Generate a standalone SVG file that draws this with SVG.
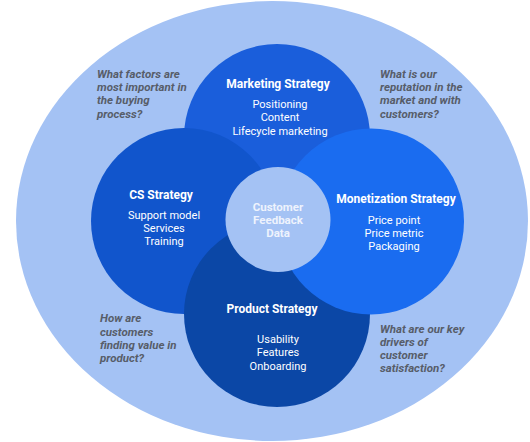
<svg xmlns="http://www.w3.org/2000/svg" width="530" height="442" viewBox="0 0 530 442">
<style>
.t{font-family:Roboto,"Liberation Sans",sans-serif;font-weight:bold;font-size:12px;fill:#ffffff;text-anchor:middle}
.i{font-family:Roboto,"Liberation Sans",sans-serif;font-size:11px;fill:#ffffff;text-anchor:middle}
.c{font-family:Roboto,"Liberation Sans",sans-serif;font-weight:bold;font-size:11.5px;fill:#eef3fd;text-anchor:middle}
.q{font-family:Roboto,"Liberation Sans",sans-serif;font-weight:bold;font-style:italic;font-size:11.5px;fill:#575d69}
</style>
<rect width="530" height="442" fill="#ffffff"/>
<g id="outer">
<ellipse cx="272" cy="221" rx="256" ry="220" fill="#a4c2f4"/>
</g>
<g id="marketing">
<circle cx="277" cy="137" r="93" fill="#1a5edb"/>
<text class="t" x="278" y="87.5">Marketing Strategy</text>
<text class="i" x="280" y="108">Positioning</text>
<text class="i" x="280" y="121">Content</text>
<text class="i" x="280" y="134.5">Lifecycle marketing</text>
</g>
<g id="cs">
<circle cx="184" cy="221" r="93" fill="#1155cc"/>
<text class="t" x="161" y="199">CS Strategy</text>
<text class="i" x="164" y="219">Support model</text>
<text class="i" x="164" y="232">Services</text>
<text class="i" x="164" y="245">Training</text>
</g>
<g id="product">
<circle cx="277" cy="314" r="93" fill="#0b47a6"/>
<text class="t" x="272" y="312.5">Product Strategy</text>
<text class="i" x="278" y="343">Usability</text>
<text class="i" x="278" y="356">Features</text>
<text class="i" x="278" y="369.5">Onboarding</text>
</g>
<g id="monetization">
<circle cx="371" cy="221.5" r="93" fill="#1a6cf0"/>
<text class="t" x="396" y="203">Monetization Strategy</text>
<text class="i" x="394" y="224">Price point</text>
<text class="i" x="394" y="237">Price metric</text>
<text class="i" x="394" y="250">Packaging</text>
</g>
<g id="center">
<circle cx="278" cy="219.5" r="52.5" fill="#a4c2f4"/>
<text class="c" x="278" y="210.5">Customer</text>
<text class="c" x="278" y="224">Feedback</text>
<text class="c" x="278" y="237">Data</text>
</g>
<g id="questions">
<text class="q" x="97" y="78">What factors are</text>
<text class="q" x="97" y="91">most important in</text>
<text class="q" x="97" y="104">the buying</text>
<text class="q" x="97" y="117.5">process?</text>
<text class="q" x="380" y="78">What is our</text>
<text class="q" x="380" y="91">reputation in the</text>
<text class="q" x="380" y="104">market and with</text>
<text class="q" x="380" y="117.5">customers?</text>
<text class="q" x="100" y="322">How are</text>
<text class="q" x="100" y="335.5">customers</text>
<text class="q" x="100" y="348.5">finding value in</text>
<text class="q" x="100" y="361.5">product?</text>
<text class="q" x="380" y="332.5">What are our key</text>
<text class="q" x="380" y="345.5">drivers of</text>
<text class="q" x="380" y="358.5">customer</text>
<text class="q" x="380" y="372">satisfaction?</text>
</g>
<g id="connectors"/>
</svg>
